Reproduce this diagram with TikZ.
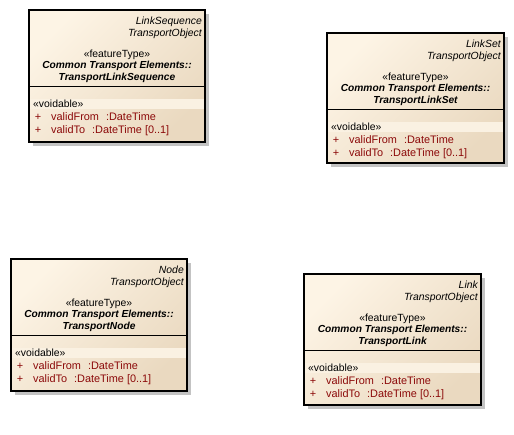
\documentclass[tikz,border=0pt]{standalone}
\usepackage{fontspec}
\setmainfont{Liberation Sans}
\usetikzlibrary{shadows}

\definecolor{boxlight}{RGB}{253,244,229}
\definecolor{boxdark}{RGB}{234,217,192}
\definecolor{bandfill}{RGB}{250,241,226}
\definecolor{attrred}{RGB}{140,10,10}
\definecolor{shadowgray}{RGB}{195,195,195}

\tikzset{
  classbox/.style={draw=black, line width=1.2pt,
    top color=boxlight, bottom color=boxdark, shading angle=45,
    general shadow={shadow xshift=3.5pt, shadow yshift=-3.5pt, fill=shadowgray, draw=none},
    inner sep=0pt, outer sep=0pt},
  voidband/.style={fill=bandfill, draw=none},
  sepline/.style={draw=black, line width=1pt},
  classtext/.style={inner sep=0pt, font=\fontsize{10.4}{12}\selectfont},
  classtextit/.style={inner sep=0pt, font=\fontsize{10.4}{12}\selectfont\itshape},
  classtextbf/.style={inner sep=0pt, font=\fontsize{10.2}{12}\selectfont\bfseries\itshape},
  attrtext/.style={inner sep=0pt, text=attrred, font=\fontsize{10.9}{12}\selectfont},
}

% #1 id, #2 left, #3 top, #4 width, #5 height, #6 kind, #7 class name
\newcommand\umlclass[7]{%
  \node[classbox, minimum width=#4pt, minimum height=#5pt, anchor=north west] (#1) at (#2,#3) {};
  \fill[voidband] ([shift={(1pt,-89pt)}]#1.north west) rectangle ([shift={(-1pt,-99pt)}]#1.north east);
  \draw[sepline] ([yshift=-76pt]#1.north west) -- ([yshift=-76pt]#1.north east);
  \node[classtextit, anchor=base east] (#1-kind) at ([shift={(-3pt,-14pt)}]#1.north east) {#6};
  \node[classtextit, anchor=base east] (#1-parent) at ([shift={(-3pt,-26pt)}]#1.north east) {TransportObject};
  \node[classtext, anchor=base] (#1-stereo) at ([yshift=-47pt]#1.north) {«featureType»};
  \node[classtextbf, anchor=base] (#1-pkg) at ([yshift=-58pt]#1.north) {Common Transport Elements::};
  \node[classtextbf, anchor=base] (#1-name) at ([yshift=-70pt]#1.north) {#7};
  \node[classtext, anchor=base west] (#1-void) at ([shift={(4pt,-97pt)}]#1.north west) {«voidable»};
  \node[attrtext, anchor=base] (#1-plus1) at ([shift={(9pt,-110pt)}]#1.north west) {+};
  \node[attrtext, anchor=base west] (#1-from) at ([shift={(22pt,-110pt)}]#1.north west) {validFrom\hspace{7pt}:DateTime};
  \node[attrtext, anchor=base] (#1-plus2) at ([shift={(9pt,-123pt)}]#1.north west) {+};
  \node[attrtext, anchor=base west] (#1-to) at ([shift={(22pt,-123pt)}]#1.north west) {validTo\hspace{7pt}:DateTime [0..1]};
}

\begin{document}
\begin{tikzpicture}[x=1pt, y=-1pt]
  \useasboundingbox (0,0) rectangle (514,434);
  \umlclass{linkseq}{29}{10}{176}{132}{LinkSequence}{TransportLinkSequence}
  \umlclass{linkset}{327}{33}{177}{130}{LinkSet}{TransportLinkSet}
  \umlclass{node}{11}{259}{176}{132}{Node}{TransportNode}
  \umlclass{link}{304}{274}{177}{131}{Link}{TransportLink}
\end{tikzpicture}
\end{document}
